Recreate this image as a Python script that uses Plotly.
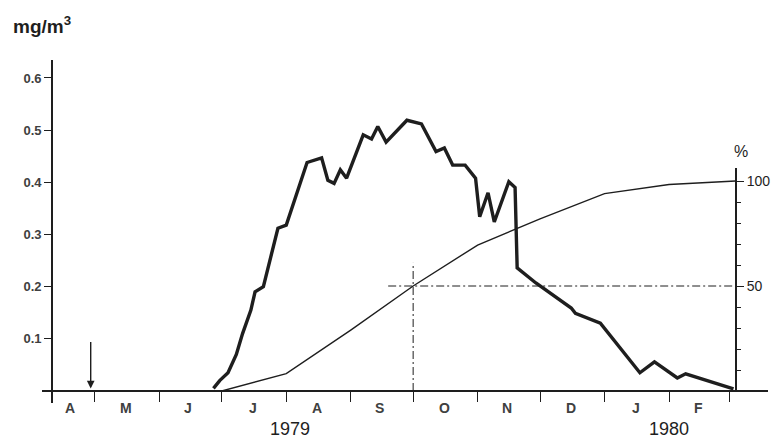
import plotly.graph_objects as go

# Chlorophyll-like concentration (mg/m^3), thick line
conc_dates = [
    "1979-06-27", "1979-06-30", "1979-07-04", "1979-07-08", "1979-07-11",
    "1979-07-15", "1979-07-17", "1979-07-21", "1979-07-28", "1979-08-01",
    "1979-08-11", "1979-08-18", "1979-08-21", "1979-08-24", "1979-08-27",
    "1979-08-30", "1979-09-07", "1979-09-11", "1979-09-14", "1979-09-18",
    "1979-09-28", "1979-10-05", "1979-10-12", "1979-10-16", "1979-10-20",
    "1979-10-26", "1979-10-31", "1979-11-02", "1979-11-06", "1979-11-09",
    "1979-11-16", "1979-11-19", "1979-11-20", "1979-11-29", "1979-12-16",
    "1979-12-18", "1979-12-30", "1980-01-18", "1980-01-25", "1980-02-05",
    "1980-02-09", "1980-03-03",
]
conc_values = [
    0.005, 0.020, 0.035, 0.070, 0.110,
    0.155, 0.190, 0.200, 0.312, 0.318,
    0.438, 0.447, 0.404, 0.398, 0.424,
    0.408, 0.491, 0.483, 0.507, 0.477,
    0.519, 0.512, 0.459, 0.466, 0.433,
    0.433, 0.408, 0.334, 0.380, 0.324,
    0.401, 0.390, 0.236, 0.207, 0.159,
    0.149, 0.130, 0.035, 0.056, 0.025,
    0.033, 0.004,
]

# Cumulative share (%), thin line
cum_dates = ["1979-07-01", "1979-08-01", "1979-09-01", "1979-10-01", "1979-11-01",
             "1979-12-01", "1980-01-01", "1980-02-01", "1980-03-04"]
cum_values = [0, 8.3, 29, 50, 69.5, 82, 94, 98.3, 100]

# 50 % reference
median_date = "1979-10-01"
half_line_start = "1979-09-19"
half_line_end = "1980-03-03"
vert_top_pct = 61

arrow_date = "1979-04-29"

month_starts = ["1979-05-01", "1979-06-01", "1979-07-01", "1979-08-01", "1979-09-01",
                "1979-10-01", "1979-11-01", "1979-12-01", "1980-01-01", "1980-02-01",
                "1980-03-01"]
month_label_dates = ["1979-04-19", "1979-05-16", "1979-06-15", "1979-07-16", "1979-08-16",
                     "1979-09-15", "1979-10-16", "1979-11-15", "1979-12-16", "1980-01-16",
                     "1980-02-15"]
month_letters = ["A", "M", "J", "J", "A", "S", "O", "N", "D", "J", "F"]
year_labels = ["1979", "1980"]
year_label_dates = ["1979-08-03", "1980-02-01"]

left_ticks = [0.1, 0.2, 0.3, 0.4, 0.5, 0.6]
right_major = [50, 100]
right_minor = [10, 20, 30, 40, 60, 70, 80, 90]

INK = "#1e1e1e"
TXT = "#404040"
FONT = "Liberation Sans, Arial, sans-serif"

# plot area in pixels: x 42..770, y 60..403
PLOT_TOP, PLOT_BOTTOM, PLOT_LEFT, PLOT_W = 60, 403, 42, 728
PLOT_H = PLOT_BOTTOM - PLOT_TOP


def py(px):
    return (PLOT_BOTTOM - px) / PLOT_H


def px_x(px):
    return (px - PLOT_LEFT) / PLOT_W


fig = go.Figure()

fig.add_trace(go.Scatter(
    x=cum_dates, y=cum_values, mode="lines", xaxis="x", yaxis="y2",
    line=dict(color=INK, width=1.4), hoverinfo="skip", showlegend=False,
))
fig.add_trace(go.Scatter(
    x=[half_line_start, half_line_end], y=[50, 50], mode="lines", xaxis="x", yaxis="y2",
    line=dict(color=INK, width=1, dash="8px,3px,2px,3px"), showlegend=False,
))
fig.add_trace(go.Scatter(
    x=[median_date, median_date], y=[0, vert_top_pct], mode="lines", xaxis="x", yaxis="y2",
    line=dict(color=INK, width=1, dash="8px,3px,2px,3px"), showlegend=False,
))
fig.add_trace(go.Scatter(
    x=conc_dates, y=conc_values, mode="lines", xaxis="x", yaxis="y",
    line=dict(color=INK, width=3.4), showlegend=False,
))

annotations = []
for d, t in zip(month_label_dates, month_letters):
    annotations.append(dict(x=d, y=py(408), xref="x", yref="paper", text=f"<b>{t}</b>",
                            showarrow=False, xanchor="center", yanchor="middle",
                            font=dict(family=FONT, size=14, color=TXT)))

for d, t in zip(year_label_dates, year_labels):
    annotations.append(dict(x=d, y=py(429), xref="x", yref="paper", text=t,
                            showarrow=False, xanchor="center", yanchor="middle",
                            font=dict(family=FONT, size=18, color=INK)))

annotations.append(dict(x=px_x(11), y=py(25), xref="paper", yref="paper",
                        xanchor="left", yanchor="middle",
                        text="<b>mg/m<sup>3</sup></b>", showarrow=False,
                        font=dict(family=FONT, size=19, color=INK)))
annotations.append(dict(x=px_x(743), y=py(151), xref="paper", yref="paper",
                        xanchor="center", yanchor="middle",
                        text="%", showarrow=False, font=dict(family=FONT, size=16, color=INK)))
annotations.append(dict(x=arrow_date, y=0.005, xref="x", yref="y", ax=0, ay=-48,
                        showarrow=True, arrowhead=2, arrowsize=1.1, arrowwidth=1.4,
                        arrowcolor=INK, text=""))

fig.update_layout(
    width=777, height=441,
    margin=dict(l=42, r=7, t=60, b=38, pad=0),
    paper_bgcolor="white", plot_bgcolor="rgba(0,0,0,0)",
    showlegend=False,
    xaxis=dict(
        type="date", range=["1979-04-05 14:00", "1980-03-19 14:00"],
        domain=[0, 1], anchor="free", position=py(391),
        showline=True, linecolor=INK, linewidth=1.6,
        tickmode="array", tickvals=month_starts, ticks="outside", ticklen=10,
        tickwidth=1.3, tickcolor=INK, showticklabels=False,
        showgrid=False, zeroline=False,
    ),
    yaxis=dict(
        range=[-12 / 521.7, 331 / 521.7], domain=[0, 1],
        anchor="free", position=px_x(52),
        showline=True, linecolor=INK, linewidth=1.6,
        tickmode="array", tickvals=left_ticks,
        ticktext=[f"<b>{v:.1f}</b>" for v in left_ticks],
        ticks="outside", ticklen=7, tickwidth=1.3, tickcolor=INK,
        tickfont=dict(family=FONT, size=13, color=TXT),
        showgrid=False, zeroline=False,
    ),
    yaxis2=dict(
        range=[0, 223 / 2.1], domain=[py(391), py(168)],
        anchor="free", position=px_x(738), side="right",
        showline=True, linecolor=INK, linewidth=1.6,
        tickmode="array", tickvals=right_major, ticktext=[str(v) for v in right_major],
        ticks="outside", ticklen=7, tickwidth=1.3, tickcolor=INK,
        minor=dict(tickmode="array", tickvals=right_minor, ticks="outside", ticklen=4,
                   tickwidth=1.1, tickcolor=INK, showgrid=False),
        tickfont=dict(family=FONT, size=14, color=INK),
        showgrid=False, zeroline=False,
    ),
    annotations=annotations,
)

fig.write_html("out.html")
